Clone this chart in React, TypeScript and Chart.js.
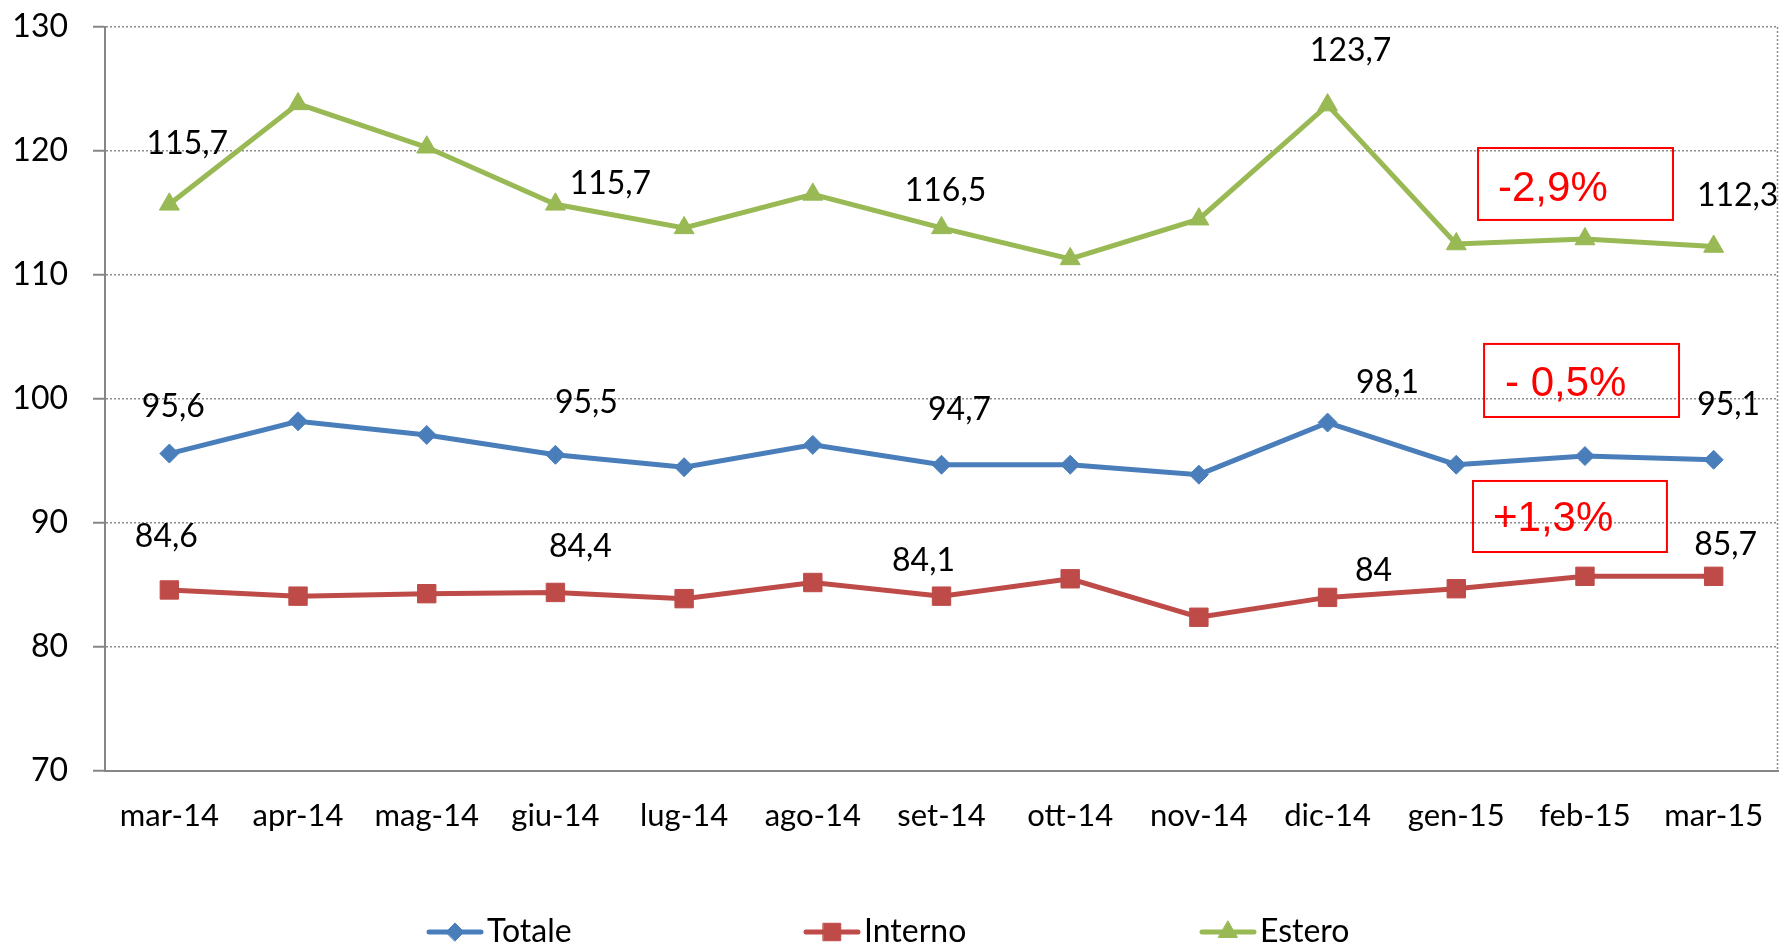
import React, { useEffect, useRef } from 'react';
import { Chart, registerables } from 'chart.js';
import { drawPoint } from 'chart.js/helpers';

Chart.register(...registerables);

// ---- data ----
const categories = ['mar-14', 'apr-14', 'mag-14', 'giu-14', 'lug-14', 'ago-14', 'set-14', 'ott-14', 'nov-14', 'dic-14', 'gen-15', 'feb-15', 'mar-15'];
const totaleValues = [95.6, 98.2, 97.1, 95.5, 94.5, 96.3, 94.7, 94.7, 93.9, 98.1, 94.7, 95.4, 95.1];
const internoValues = [84.6, 84.1, 84.3, 84.4, 83.9, 85.2, 84.1, 85.5, 82.4, 84.0, 84.7, 85.7, 85.7];
const esteroValues = [115.7, 123.8, 120.3, 115.7, 113.8, 116.5, 113.8, 111.3, 114.5, 123.7, 112.5, 112.9, 112.3];

const totaleLabels = ['95,6', null, null, '95,5', null, null, '94,7', null, null, '98,1', null, null, '95,1'];
const internoLabels = ['84,6', null, null, '84,4', null, null, '84,1', null, null, '84', null, null, '85,7'];
const esteroLabels = ['115,7', null, null, '115,7', null, null, '116,5', null, null, '123,7', null, null, '112,3'];

const seriesNames = ['Totale', 'Interno', 'Estero'];
const changeTexts = ['- 0,5%', '+1,3%', '-2,9%'];

const yTicks = { min: 70, max: 130, step: 10 };

// ---- styles / layout ----
const FONT = 'Lato';
const COLORS = ['#4A7EBB', '#BE4B48', '#98B954'];
const POINT_STYLES = ['rectRot', 'rect', 'triangle'];
const POINT_RADII = [9.5, 13, 11.5];

// label center offsets (px) from the point, per series, per index
const labelOffsets: Record<number, [number, number]>[] = [
  { 0: [4, -47], 3: [31, -52], 6: [18, -55], 9: [60, -40], 12: [15, -55] },
  { 0: [-3, -53], 3: [25, -46], 6: [-18, -35], 9: [46, -27], 12: [12, -32] },
  { 0: [18, -61], 3: [55, -21], 6: [4, -37], 9: [23, -54], 12: [24, -51] },
];

// change boxes anchored in data space: x as category index, y as value
const changeBoxes = [
  { x0: 10.216, x1: 11.731, yTop: 104.44, yBot: 98.55, tx: 21, ty: 52 },
  { x0: 10.13, x1: 11.637, yTop: 93.39, yBot: 87.66, tx: 20, ty: 50 },
  { x0: 10.169, x1: 11.684, yTop: 120.24, yBot: 114.44, tx: 20, ty: 53 },
];

// legend item start offsets relative to canvas center
const legendOffsets = [-464.5, -87.5, 308.5];

const seriesLabelTexts = [totaleLabels, internoLabels, esteroLabels];

export default function App() {
  const ref = useRef<HTMLCanvasElement>(null);

  useEffect(() => {
    const canvas = ref.current;
    if (!canvas) return;

    const overlay = {
      id: 'overlay',
      beforeDatasetsDraw(chart: any) {
        const { ctx, chartArea } = chart;
        ctx.save();
        ctx.strokeStyle = '#8c8c8c';
        ctx.lineWidth = 1.5;
        ctx.setLineDash([2, 2]);
        ctx.beginPath();
        ctx.moveTo(chartArea.right - 0.5, chartArea.top);
        ctx.lineTo(chartArea.right - 0.5, chartArea.bottom);
        ctx.stroke();
        ctx.restore();
      },
      afterDatasetsDraw(chart: any) {
        const { ctx } = chart;
        const xs = chart.scales.x;
        const ys = chart.scales.y;
        ctx.save();
        // value labels
        ctx.font = `32px ${FONT}`;
        ctx.fillStyle = '#000';
        ctx.textAlign = 'center';
        ctx.textBaseline = 'middle';
        chart.data.datasets.forEach((_ds: any, di: number) => {
          const meta = chart.getDatasetMeta(di);
          const texts = seriesLabelTexts[di];
          meta.data.forEach((pt: any, i: number) => {
            const t = texts[i];
            if (!t) return;
            const o = labelOffsets[di][i] || [0, -45];
            ctx.fillText(t, pt.x + o[0], pt.y + o[1]);
          });
        });
        // change boxes
        ctx.font = `42px "Liberation Sans", Arial, sans-serif`;
        ctx.textAlign = 'left';
        ctx.textBaseline = 'alphabetic';
        changeBoxes.forEach((b, k) => {
          const l = xs.getPixelForValue(b.x0);
          const r = xs.getPixelForValue(b.x1);
          const t = ys.getPixelForValue(b.yTop);
          const bt = ys.getPixelForValue(b.yBot);
          ctx.strokeStyle = '#FF0000';
          ctx.lineWidth = 2;
          ctx.setLineDash([]);
          ctx.strokeRect(l, t, r - l, bt - t);
          ctx.fillStyle = '#FF0000';
          ctx.fillText(changeTexts[k], l + b.tx, t + b.ty);
        });
        // legend
        ctx.font = `32px ${FONT}`;
        ctx.textBaseline = 'middle';
        const lineLen = 56;
        const gap = 4;
        const y = 932;
        seriesNames.forEach((n, k) => {
          const x = chart.width / 2 + legendOffsets[k];
          ctx.strokeStyle = COLORS[k];
          ctx.lineWidth = 5;
          ctx.lineCap = 'round';
          ctx.beginPath();
          ctx.moveTo(x + 2, y);
          ctx.lineTo(x + lineLen - 2, y);
          ctx.stroke();
          ctx.fillStyle = COLORS[k];
          ctx.strokeStyle = COLORS[k];
          ctx.lineWidth = 1;
          drawPoint(ctx, { pointStyle: POINT_STYLES[k], radius: POINT_RADII[k] * 0.95, rotation: 0, borderWidth: 1 } as any, x + lineLen / 2, y);
          ctx.fillStyle = '#000';
          ctx.fillText(n, x + lineLen + gap, y);
        });
        ctx.restore();
      },
    };

    const valuesList = [totaleValues, internoValues, esteroValues];
    const chart = new Chart(canvas, {
      type: 'line',
      data: {
        labels: categories,
        datasets: seriesNames.map((name, k) => ({
          label: name,
          data: valuesList[k],
          borderColor: COLORS[k],
          backgroundColor: COLORS[k],
          borderWidth: 5,
          pointStyle: POINT_STYLES[k] as any,
          pointRadius: POINT_RADII[k],
          pointBorderWidth: 1,
          pointBackgroundColor: COLORS[k],
          pointBorderColor: COLORS[k],
          tension: 0,
          fill: false,
        })),
      },
      options: {
        animation: false,
        responsive: true,
        maintainAspectRatio: false,
        layout: { autoPadding: false, padding: { top: 27, right: 5, bottom: 106, left: 0 } },
        plugins: {
          legend: { display: false },
          tooltip: { enabled: false },
        },
        scales: {
          x: {
            offset: true,
            grid: { display: false, drawTicks: false },
            border: { display: true, color: '#868686', width: 2 },
            ticks: {
              padding: 26,
              color: '#000',
              font: { family: FONT, size: 31 },
              maxRotation: 0,
              autoSkip: false,
            },
            afterFit: (s: any) => {
              s.height = 70;
              s.paddingLeft = 0;
              s.paddingRight = 0;
            },
          },
          y: {
            min: yTicks.min,
            max: yTicks.max,
            ticks: {
              stepSize: yTicks.step,
              padding: 25,
              color: '#000',
              font: { family: FONT, size: 32 },
            },
            grid: {
              color: '#8c8c8c',
              lineWidth: 1.5,
              tickLength: 12,
              tickColor: '#868686',
              tickWidth: 2,
              tickBorderDash: [],
            } as any,
            border: { display: true, color: '#868686', width: 2, dash: [2, 2] },
            afterFit: (s: any) => {
              s.width = 105;
              s.paddingTop = 0;
              s.paddingBottom = 0;
            },
          },
        },
      },
      plugins: [overlay],
    });

    return () => chart.destroy();
  }, []);

  return (
    <div style={{ position: 'fixed', left: 0, top: 0, width: 1783, height: 947, background: '#fff' }}>
      <canvas ref={ref} />
    </div>
  );
}
